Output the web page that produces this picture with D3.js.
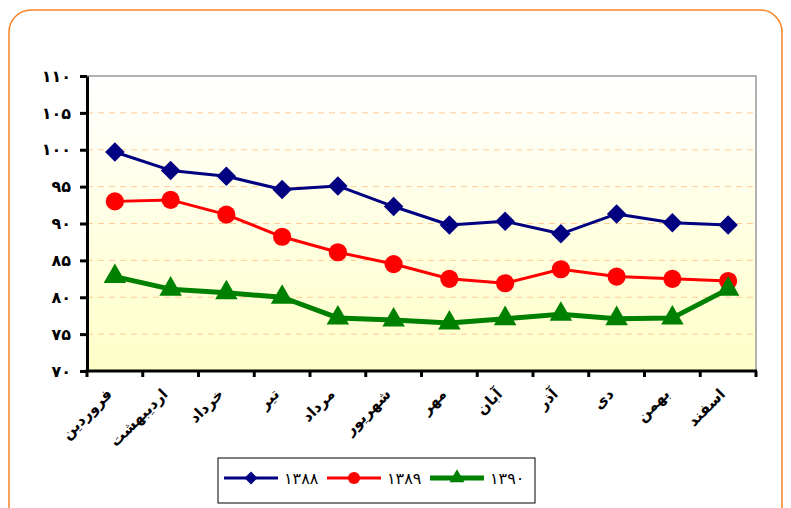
<!DOCTYPE html>
<html>
<head>
<meta charset="utf-8">
<script src="https://cdn.jsdelivr.net/npm/d3@7"></script>
<style>
  body { margin: 0; background: #fff; }
  text { font-family: "DejaVu Sans", sans-serif; }
</style>
</head>
<body>
<svg width="791" height="508"></svg>
<script>
const months = ["فروردین", "اردیبهشت", "خرداد", "تیر", "مرداد", "شهریور",
                "مهر", "آبان", "آذر", "دی", "بهمن", "اسفند"]

const s1388 = [99.7, 97.2, 96.4, 94.6, 95.1, 92.3, 89.8, 90.3, 88.6, 91.3, 90.1, 89.8]
const s1389 = [93.0, 93.2, 91.2, 88.2, 86.1, 84.5, 82.5, 81.9, 83.8, 82.8, 82.5, 82.2]
const s1390 = [82.8, 81.1, 80.6, 80.0, 77.2, 76.9, 76.5, 77.1, 77.7, 77.1, 77.2, 81.1]

const yTicks = [70, 75, 80, 85, 90, 95, 100, 105, 110]

const series = [
  { name: "۱۳۸۸", values: s1388, color: "#000080", width: 3, symbol: d3.symbolSquare, size: 190, rot: 45 },
  { name: "۱۳۸۹", values: s1389, color: "#ff0000", width: 3, symbol: d3.symbolCircle, size: 260, rot: 0 },
  { name: "۱۳۹۰", values: s1390, color: "#008000", width: 5, symbol: d3.symbolTriangle, size: 220, rot: 0 }
]

// persian digits
const fa = (n) => String(n).replace(/\d/g, (d) => "۰۱۲۳۴۵۶۷۸۹"[d])

const svg = d3.select("svg")

// outer rounded frame
svg.append("rect")
    .attr("x", 9).attr("y", 10)
    .attr("width", 773).attr("height", 520)
    .attr("rx", 22).attr("ry", 22)
    .attr("fill", "none")
    .attr("stroke", "#f98224")
    .attr("stroke-width", 1.5)

const pLeft = 87, pRight = 756, pTop = 76, pBottom = 371

const x = d3.scaleBand().domain(months).range([pLeft, pRight])
const y = d3.scaleLinear().domain([70, 110]).range([pBottom, pTop])

const grad = svg.append("defs").append("linearGradient")
    .attr("id", "bg").attr("x1", 0).attr("y1", 0).attr("x2", 0).attr("y2", 1)
grad.append("stop").attr("offset", "0%").attr("stop-color", "#ffffff")
grad.append("stop").attr("offset", "100%").attr("stop-color", "#ffffc8")

svg.append("rect")
    .attr("x", pLeft).attr("y", pTop)
    .attr("width", pRight - pLeft).attr("height", pBottom - pTop)
    .attr("fill", "url(#bg)")
    .attr("stroke", "#9a9a9a")
    .attr("stroke-width", 1.5)

// gridlines
svg.append("g")
  .selectAll("line")
  .data(yTicks.filter((t) => t > 70 && t < 110))
  .enter().append("line")
    .attr("x1", pLeft).attr("x2", pRight)
    .attr("y1", (d) => y(d)).attr("y2", (d) => y(d))
    .attr("stroke", "#ffcc99")
    .attr("stroke-dasharray", "6,5")

// y axis
const yAxis = svg.append("g")
    .attr("transform", `translate(${pLeft},0)`)
    .call(d3.axisLeft(y).tickValues(yTicks).tickSize(7).tickSizeOuter(0).tickPadding(9).tickFormat(fa))
yAxis.select(".domain").attr("stroke", "#000").attr("stroke-width", 3)
yAxis.selectAll(".tick line").attr("stroke", "#000").attr("stroke-width", 3)
yAxis.selectAll("text")
    .attr("font-size", 16).attr("font-weight", "bold").attr("fill", "#000")

// x axis: ticks at category boundaries
const xg = svg.append("g")
xg.append("line")
    .attr("x1", pLeft - 1.5).attr("x2", pRight + 1)
    .attr("y1", pBottom).attr("y2", pBottom)
    .attr("stroke", "#000").attr("stroke-width", 3)
xg.selectAll(".tk")
  .data(months.concat(["end"]))
  .enter().append("line")
    .attr("class", "tk")
    .attr("x1", (d, i) => pLeft + i * x.bandwidth())
    .attr("x2", (d, i) => pLeft + i * x.bandwidth())
    .attr("y1", pBottom).attr("y2", pBottom + 6)
    .attr("stroke", "#000").attr("stroke-width", 3)

xg.selectAll(".lbl")
  .data(months)
  .enter().append("text")
    .attr("class", "lbl")
    .attr("transform", (d) => `translate(${x(d) + x.bandwidth() / 2 - 2},${pBottom + 24}) rotate(-45)`)
    .attr("text-anchor", "end")
    .attr("font-size", 15)
    .attr("font-weight", "bold")
    .text((d) => d)

// lines and markers
const line = d3.line()
    .x((d, i) => x(months[i]) + x.bandwidth() / 2)
    .y((d) => y(d))

series.forEach((s) => {
  const g = svg.append("g")
  g.append("path")
      .datum(s.values)
      .attr("d", line)
      .attr("fill", "none")
      .attr("stroke", s.color)
      .attr("stroke-width", s.width)
      .attr("stroke-linejoin", "round")
  g.selectAll("path.m")
    .data(s.values)
    .enter().append("path")
      .attr("class", "m")
      .attr("d", d3.symbol().type(s.symbol).size(s.size))
      .attr("transform", (d, i) => `translate(${x(months[i]) + x.bandwidth() / 2},${y(d)}) rotate(${s.rot})`)
      .attr("fill", s.color)
})

// legend
const lg = svg.append("g")
lg.append("rect")
    .attr("x", 218).attr("y", 458)
    .attr("width", 317).attr("height", 45)
    .attr("fill", "#fff").attr("stroke", "#000").attr("stroke-width", 1)

series.forEach((s, i) => {
  const x0 = 224 + i * 103, cy = 478
  lg.append("line")
      .attr("x1", x0).attr("x2", x0 + 54)
      .attr("y1", cy).attr("y2", cy)
      .attr("stroke", s.color).attr("stroke-width", s.width)
  lg.append("path")
      .attr("d", d3.symbol().type(s.symbol).size(s.size * 0.45))
      .attr("transform", `translate(${x0 + 27},${cy}) rotate(${s.rot})`)
      .attr("fill", s.color)
  lg.append("text")
      .attr("x", x0 + 60).attr("y", cy + 6)
      .attr("font-size", 16)
      .text(s.name)
})
</script>
</body>
</html>
